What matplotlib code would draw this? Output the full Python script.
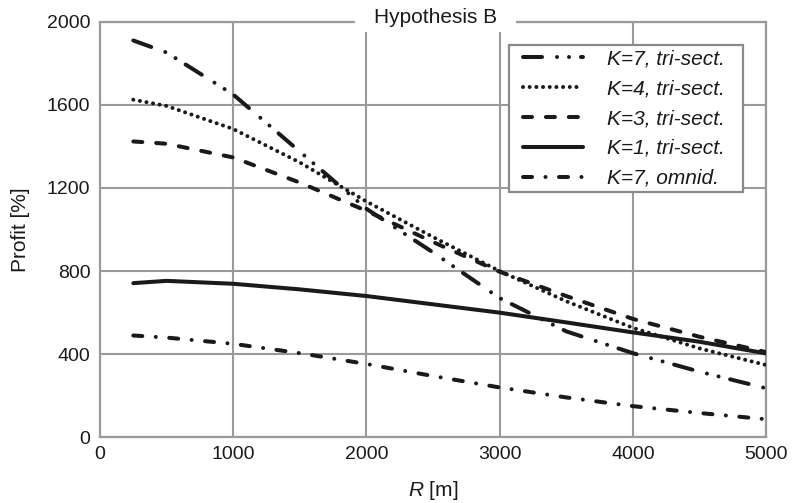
import matplotlib
matplotlib.use('Agg')
import matplotlib.pyplot as plt
from matplotlib.patches import Rectangle

plt.rcParams['font.family'] = ['Liberation Sans', 'DejaVu Sans']
plt.rcParams['mathtext.fontset'] = 'custom'
plt.rcParams['mathtext.it'] = 'Liberation Sans:italic'
plt.rcParams['mathtext.rm'] = 'Liberation Sans'
plt.rcParams['lines.scale_dashes'] = False

# distance R [m]
r = [250, 500, 1000, 1500, 2000, 2500, 3000, 3500, 4000, 4500, 5000]

# profit [%]
k7_tri = [1910, 1852, 1650, 1375, 1100, 890, 670, 510, 405, 316, 236]
k4_tri = [1625, 1595, 1484, 1323, 1135, 964, 800, 655, 527, 428, 348]
k3_tri = [1424, 1413, 1347, 1226, 1090, 940, 797, 680, 570, 484, 410]
k1_tri = [742, 753, 739, 712, 680, 640, 600, 553, 505, 460, 404]
k7_omni = [490, 480, 450, 405, 353, 295, 240, 192, 150, 117, 87]

labels = ['K=7, tri-sect.', 'K=4, tri-sect.', 'K=3, tri-sect.',
          'K=1, tri-sect.', 'K=7, omnid.']
xticks = [0, 1000, 2000, 3000, 4000, 5000]
yticks = [0, 400, 800, 1200, 1600, 2000]

ink = '#1a1a1a'
gray = '#9a9a9a'
lw = 2.9

fig = plt.figure(figsize=(7.93, 5.03), dpi=100)
ax = fig.add_axes([0.1261, 0.1306, 0.8399, 0.8261])

styles = [
    (0, (13.7, 10.8, 0.01, 8.6, 0.01, 8.6)),
    (0, (0.01, 4.8)),
    (0, (6.5, 10.0)),
    '-',
    (0, (6.5, 9.7, 0.01, 9.7)),
]
series = [k7_tri, k4_tri, k3_tri, k1_tri, k7_omni]
for ys, ls, lab in zip(series, styles, labels):
    ax.plot(r, ys, color=ink, lw=lw, linestyle=ls, label=lab,
            dash_capstyle='round', solid_capstyle='round', zorder=3)

ax.set_xlim(0, 5000)
ax.set_ylim(0, 2000)
ax.set_xticks(xticks)
ax.set_yticks(yticks)
ax.tick_params(length=0, labelsize=14, colors=ink)
ax.tick_params(axis='y', pad=7)
ax.tick_params(axis='x', pad=6)
ax.grid(True, color=gray, lw=1.5, zorder=1)
ax.set_axisbelow(True)
for s in ax.spines.values():
    s.set_color(gray)
    s.set_linewidth(1.6)

ax.set_ylabel('Profit [%]', fontsize=15, color=ink, labelpad=12)
ax.set_xlabel(r'$\mathit{R}$ [m]', fontsize=15, color=ink, labelpad=12)

# legend frame drawn by hand so padding can differ per side
ax.add_patch(Rectangle((0.6141, 0.5901), 0.3514, 0.3541,
                       transform=ax.transAxes, facecolor='white',
                       edgecolor='#8a8a8a', lw=1.6, zorder=4))
leg = ax.legend(loc='upper left', bbox_to_anchor=(0.6351, 0.9333),
                fontsize=15, handlelength=2.9, handletextpad=1.15,
                labelspacing=0.52, borderaxespad=0, borderpad=0,
                frameon=False)
leg.set_zorder(5)
for t in leg.get_texts():
    t.set_fontstyle('italic')
    t.set_color(ink)

# title sits in a white gap cut into the top frame
ax.add_patch(Rectangle((0.383, 0.975), 0.242, 0.09, transform=ax.transAxes,
                       facecolor='white', edgecolor='none', clip_on=False,
                       zorder=4))
ax.text(0.5045, 1.0103, 'Hypothesis B', transform=ax.transAxes,
        ha='center', va='center', fontsize=15, color=ink, zorder=5)

fig.savefig('out.png', dpi=100)
